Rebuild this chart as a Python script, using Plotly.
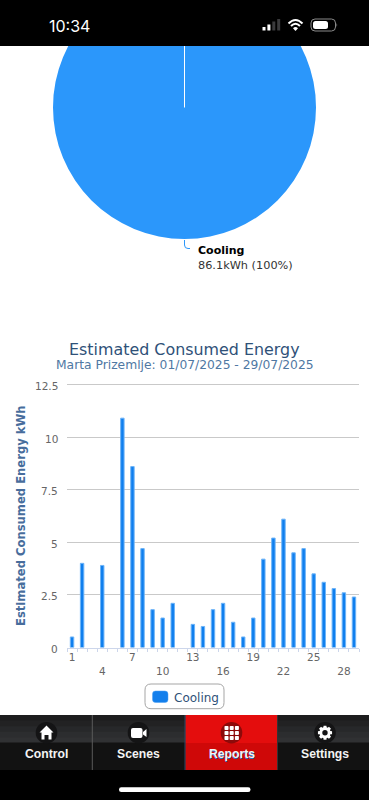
import math
import plotly.graph_objects as go

# ---- data ----
pie_labels = ["Cooling"]
pie_values = [86.1]
days = list(range(1, 30))
cooling_kwh = [0.5, 4.0, 0, 3.9, 0, 10.9, 8.6, 4.7, 1.8, 1.4, 2.1, 0, 1.1, 1.0, 1.8,
               2.1, 1.2, 0.5, 1.4, 4.2, 5.2, 6.1, 4.5, 4.7, 3.5, 3.1, 2.8, 2.6, 2.4]
y_ticks = [0, 2.5, 5, 7.5, 10, 12.5]
y_tick_labels = ["0", "2.5", "5", "7.5", "10", "12.5"]
x_ticks = [1, 4, 7, 10, 13, 16, 19, 22, 25, 28]
x_tick_labels = ["1", "<br>4", "7", "<br>10", "13", "<br>16", "19", "<br>22", "25", "<br>28"]
tabs = ["Control", "Scenes", "Reports", "Settings"]

# ---- page geometry ----
W, PAGE_H, O = 369, 800, 30      # O: figure starts this far above the page so the pie can be cropped
H = PAGE_H + O
def fy(y):
    return 1 - (y + O) / H

FONT = "DejaVu Sans"
shapes, notes = [], []

def add_path(path, fill="rgba(0,0,0,0)", line=None, width=0):
    shapes.append(dict(type="path", xref="x2", yref="y2", path=path, fillcolor=fill, layer="above",
                       line=dict(color=line or "rgba(0,0,0,0)", width=width)))

def add_rect(x0, y0, x1, y1, fill):
    shapes.append(dict(type="rect", xref="x2", yref="y2", x0=x0, y0=y0, x1=x1, y1=y1,
                       fillcolor=fill, line_width=0, layer="above"))

def add_line(x0, y0, x1, y1, color, width=1):
    shapes.append(dict(type="line", xref="x2", yref="y2", x0=x0, y0=y0, x1=x1, y1=y1,
                       line=dict(color=color, width=width), layer="above"))

def add_circle(cx, cy, r, fill):
    shapes.append(dict(type="circle", xref="x2", yref="y2", x0=cx - r, y0=cy - r, x1=cx + r, y1=cy + r,
                       fillcolor=fill, line_width=0, layer="above"))

def rr(x0, y0, x1, y1, r):
    return (f"M{x0 + r},{y0} L{x1 - r},{y0} Q{x1},{y0} {x1},{y0 + r} L{x1},{y1 - r} Q{x1},{y1} {x1 - r},{y1} "
            f"L{x0 + r},{y1} Q{x0},{y1} {x0},{y1 - r} L{x0},{y0 + r} Q{x0},{y0} {x0 + r},{y0} Z")

def add_text(x, y, text, size, color, anchor="left", family=FONT, shadow=None, angle=0):
    font = dict(family=family, size=size, color=color)
    if shadow:
        font["shadow"] = shadow
    notes.append(dict(xref="x2", yref="y2", x=x, y=y, text=text, showarrow=False, xanchor=anchor,
                      yanchor="middle", font=font, align=anchor, textangle=angle,
                      borderpad=0, borderwidth=0))

# pie seam and leader line
add_line(184.5, 46, 184.5, 107.5, "#ffffff", 1)
add_path("M184.5,240 L184.5,245 Q184.5,248.5 188,248.5 L190,248.5", line="#2b97fb", width=1)
add_text(198, 250.5, "<b>Cooling</b>", 11, "#000000")
add_text(198, 265, "86.1kWh (100%)", 11.3, "#333333")

# status bar
add_rect(0, -O, W, 46, "#000000")
add_text(69, 25.5, "10:34", 16, "#ffffff", "center", "Inter")
for i, (h, c) in enumerate(zip([3.5, 6, 9, 11.5], ["#ffffff", "#ffffff", "#3a3a3c", "#3a3a3c"])):
    add_rect(262.5 + i * 4.9, 30.5 - h, 265.5 + i * 4.9, 30.5, c)
add_path("M288.5,23.5 Q295.5,16.5 302.5,23.5", line="#ffffff", width=2)
add_path("M291,26 Q295.5,21.5 300,26", line="#ffffff", width=2)
add_path("M293,28.2 L295.5,31 L298,28.2 Q295.5,26 293,28.2 Z", fill="#ffffff")
add_path(rr(311, 19, 335.5, 31, 4), line="#8a8a8a", width=1)
add_path(rr(313, 21, 328, 29, 2.5), fill="#ffffff")
add_path("M336.5,23 Q338,25 336.5,27 Z", fill="#8a8a8a")

# chart titles
add_text(184.5, 349, "Estimated Consumed Energy", 15.9, "#2f5178", "center")
add_text(184.5, 365, "Marta Prizemlje: 01/07/2025 - 29/07/2025", 12.3, "#4f78a3", "center")
add_text(21, 516, "<b>Estimated Consumed Energy kWh</b>", 11.6, "#476d9c", "center", angle=-90)

# y-axis labels sit slightly below their gridlines in the reference
for v, t in zip(y_ticks, y_tick_labels):
    notes.append(dict(xref="x2", yref="y", x=58.5, y=v, text=t, showarrow=False, xanchor="right",
                      yanchor="middle", yshift=-1.5, borderpad=0,
                      font=dict(family=FONT, size=10.5, color="#666666")))

# legend box
add_path(rr(145, 684, 224, 708.7, 6), fill="#ffffff", line="#a5a5a5", width=1)
add_path(rr(152.5, 691, 168, 702.5, 3), fill="#137fec", line="#4ea3f5", width=0.5)
add_text(173.5, 697.5, "Cooling", 12, "#2f5178")

# tab bar (each band runs to the bottom of the upper half, so no seams show)
band_colors = ["#1d1d1e", "#222223", "#27282a", "#2c2d2f", "#303133"]
for i, c in enumerate(band_colors):
    add_rect(0, 715 + i * 5.6, W, 743, c)
add_rect(0, 742.5, W, 770, "#121212")
add_rect(185.3, 715, 277.5, 743, "#e40d0d")
add_rect(185.3, 743, 277.5, 770, "#cf0808")
add_rect(0, 770, W, PAGE_H, "#000000")
for x, c in [(92.3, "#5a5a5a"), (185, "#2a4a66"), (277.5, "#333333")]:
    add_line(x, 715, x, 770, c, 1)
tab_centers = [46.5, 138.5, 231.5, 325]
circle_fills = ["#141415", "#141415", "#8d0a0a", "#141415"]
for cx, f in zip(tab_centers, circle_fills):
    add_circle(cx, 732.7, 10.8, f)
for cx, t in zip(tab_centers, tabs):
    add_text(cx, 754, f"<b>{t}</b>", 12.2, "#f4f4f4", "center", "Liberation Sans",
             shadow="0px 1px 0px #1e6fc0" if t == "Reports" else None)

# icons
add_path("M46.5,725.5 L53.5,732.5 L51.5,732.5 L51.5,739.5 L48.5,739.5 L48.5,735 L44.5,735 L44.5,739.5 "
         "L41.5,739.5 L41.5,732.5 L39.5,732.5 Z", fill="#ffffff")
add_path(rr(131, 728, 142.5, 738, 2), fill="#ffffff")
add_path("M143,732 L146.5,729 L146.5,737 L143,734.5 Z", fill="#ffffff")
for r_ in range(3):
    for c_ in range(3):
        x0 = 224.5 + c_ * 5.2
        y0 = 726 + r_ * 5.0
        add_path(rr(x0, y0, x0 + 4, y0 + 4, 0.8), fill="#ffffff")
gear = []
for i in range(8):
    a = i * math.pi / 4
    for da, rad in [(-0.30, 5.6), (-0.20, 7.2), (0.20, 7.2), (0.30, 5.6)]:
        gear.append((325 + rad * math.sin(a + da), 732.7 - rad * math.cos(a + da)))
add_path("M" + " L".join(f"{x:.2f},{y:.2f}" for x, y in gear) + " Z", fill="#ffffff")
add_circle(325, 732.7, 2.7, "#141415")

# home indicator
add_path(rr(119, 787.3, 250.5, 792, 2.3), fill="#ffffff")

fig = go.Figure()
fig.add_trace(go.Pie(labels=pie_labels, values=pie_values, sort=False, textinfo="none", showlegend=False,
                     marker=dict(colors=["#2b97fb"], line=dict(width=0)),
                     domain=dict(x=[53 / W, 316 / W], y=[fy(239), fy(-24)])))
fig.add_trace(go.Bar(x=days, y=cooling_kwh, name="Cooling", width=0.34, showlegend=False,
                     marker=dict(color="#107fee",
                                 line=dict(color="#6db4f8", width=[1 if v > 0 else 0 for v in cooling_kwh])),
                     xaxis="x", yaxis="y"))
# invisible full-page axes: give overlay shapes and text page-pixel coordinates
fig.add_trace(go.Scatter(x=[0], y=[0], xaxis="x2", yaxis="y2", mode="markers", marker_opacity=0,
                         showlegend=False, hoverinfo="skip"))

fig.update_layout(
    width=W, height=H, margin=dict(l=0, r=0, t=0, b=0, autoexpand=False),
    paper_bgcolor="#ffffff", plot_bgcolor="rgba(0,0,0,0)", showlegend=False, shapes=shapes, annotations=notes,
    font=dict(family=FONT),
    xaxis=dict(domain=[67 / W, 359 / W], range=[0.5, 29.5], tickmode="array", tickvals=x_ticks,
               ticktext=x_tick_labels, tickangle=0, ticks="", showgrid=False, zeroline=False, showline=True,
               linecolor="#ccd6eb", linewidth=1, tickfont=dict(family=FONT, size=10.5, color="#666666"),
               ticklabelstandoff=0,
               minor=dict(tickmode="array", tickvals=[d - 0.5 for d in days] + [29.5], ticks="outside",
                          ticklen=3, tickcolor="#ccd6eb", tickwidth=1, showgrid=False),
               anchor="y"),
    # the range reaches past 12.5 because Plotly drops gridlines within 1px of the axis ends
    yaxis=dict(domain=[fy(647.5), fy(381.35)], range=[0, 12.65], tickmode="array", tickvals=y_ticks,
               showticklabels=False, showgrid=True, gridcolor="#c9c9c9", gridwidth=1, zeroline=False,
               showline=False, ticks="", anchor="x"),
    xaxis2=dict(domain=[0, 1], range=[0, W], visible=False, anchor="y2", fixedrange=True),
    yaxis2=dict(domain=[0, 1], range=[PAGE_H, -O], visible=False, anchor="x2", fixedrange=True),
)

post = ("document.documentElement.style.overflow='hidden';document.body.style.margin='0';"
        "document.body.style.overflow='hidden';"
        "var g=document.getElementsByClassName('plotly-graph-div')[0];g.style.marginTop='-%dpx';" % O)
fig.write_html("out.html", config=dict(displayModeBar=False, responsive=False), post_script=post)
